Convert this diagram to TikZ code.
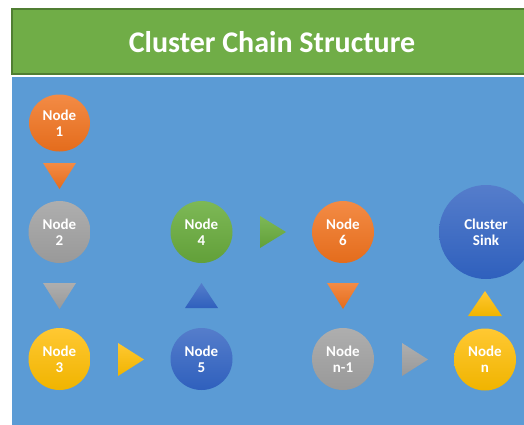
\documentclass[tikz,border=0pt]{standalone}
\usepackage{fontspec}
\setmainfont{Carlito}
\usetikzlibrary{shapes.geometric}
\definecolor{bgblue}{HTML}{5B9BD5}
\definecolor{hdrgreen}{HTML}{70AD47}
\definecolor{hdrborder}{HTML}{507E32}
\definecolor{orT}{HTML}{F38B45}
\definecolor{orB}{HTML}{E46C1C}
\definecolor{grT}{HTML}{AEAEAE}
\definecolor{grB}{HTML}{999999}
\definecolor{yeT}{HTML}{FFC832}
\definecolor{yeB}{HTML}{F0B400}
\definecolor{dbT}{HTML}{557DCB}
\definecolor{dbB}{HTML}{2F60BD}
\definecolor{gnT}{HTML}{7DB856}
\definecolor{gnB}{HTML}{62A039}
\tikzset{
  nd/.style={circle, minimum size=62pt, inner sep=0pt, align=center, text=white,
    font=\fontsize{15}{16}\selectfont\bfseries},
  orange/.style={top color=orT, bottom color=orB},
  gray/.style={top color=grT, bottom color=grB},
  yellow/.style={top color=yeT, bottom color=yeB},
  dblue/.style={top color=dbT, bottom color=dbB},
  green/.style={top color=gnT, bottom color=gnB},
}
\begin{document}
\begin{tikzpicture}[x=1pt,y=-1pt]
\useasboundingbox (0,0) rectangle (524,424);
\clip (0,0) rectangle (524,424);
% header
\fill[white] (0,0) rectangle (524,424);
\draw[hdrborder, line width=2pt, fill=hdrgreen] (12,9) rectangle (540,74);
\node[anchor=base, text=white, font=\fontsize{30}{34}\selectfont\bfseries] (title) at (272,52) {Cluster Chain Structure};
% blue panel
\fill[bgblue] (12,77) rectangle (524,430);
% nodes
\node[nd, ellipse, minimum width=61pt, minimum height=57pt, orange] (n1) at (59.5,123) {Node\\1};
\node[nd, gray] (n2) at (59.5,232) {Node\\2};
\node[nd, yellow] (n3) at (59.5,359) {Node\\3};
\node[nd, green] (n4) at (201.5,232) {Node\\4};
\node[nd, dblue] (n5) at (201.5,359) {Node\\5};
\node[nd, orange] (n6) at (343,232) {Node\\6};
\node[nd, gray] (nn1) at (343,359) {Node\\n-1};
\node[nd, yellow] (nn) at (485,359.5) {Node\\n};
\node[nd, dblue, minimum size=94pt] (sink) at (486,232) {Cluster\\Sink};
% triangle arrows
\shade[top color=orT, bottom color=orB] (43,163) -- (76,163) -- (59.5,189) -- cycle;
\shade[top color=grT, bottom color=grB] (43,283) -- (76,283) -- (59.5,309) -- cycle;
\shade[top color=yeT, bottom color=yeB] (118,343) -- (144,359.5) -- (118,376) -- cycle;
\shade[top color=dbT, bottom color=dbB] (185,308) -- (201.5,283) -- (218,308) -- cycle;
\shade[top color=gnT, bottom color=gnB] (260,216) -- (286,232) -- (260,248) -- cycle;
\shade[top color=orT, bottom color=orB] (327,283) -- (359,283) -- (343,309) -- cycle;
\shade[top color=grT, bottom color=grB] (402,343) -- (428,359.5) -- (402,376) -- cycle;
\shade[top color=yeT, bottom color=yeB] (468,316) -- (485,291) -- (502,316) -- cycle;
\end{tikzpicture}
\end{document}
